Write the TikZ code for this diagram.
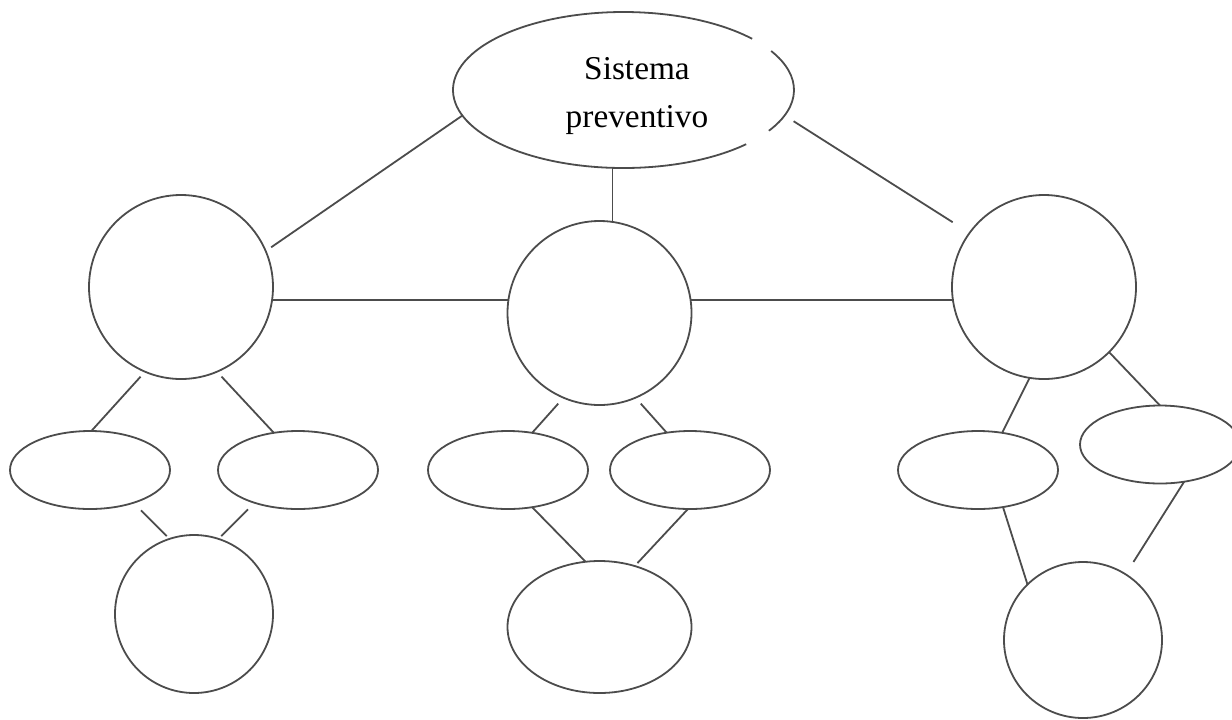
\documentclass[tikz,border=0pt]{standalone}
\usepackage{fontspec}
\setmainfont{Liberation Serif}
\usetikzlibrary{shapes.geometric}

\begin{document}
\begin{tikzpicture}[x=0.75pt,y=0.75pt,yscale=-1,xscale=1,
  line/.style={draw=black!70,line width=1.35pt},
  shp/.style={line,inner sep=0pt,outer sep=0pt},
  bigcirc/.style={shp,circle,minimum size=138pt},
  smallcirc/.style={shp,circle,minimum size=118.5pt},
  oval/.style={shp,ellipse,minimum width=120pt,minimum height=58.5pt}]
\useasboundingbox (0,0) rectangle (1232,719);

%Shape: Ellipse (outline broken on the right)
\node [ellipse,inner sep=0pt,outer sep=0pt,minimum width=255.75pt,minimum height=117pt] (sp) at (623.5,90) {};
\draw [line] (sp.center) ++(44:170.5 and 78) arc [start angle=44,end angle=319,x radius=170.5,y radius=78];
\draw [line] (sp.center) ++(-30:170.5 and 78) arc [start angle=-30,end angle=31.5,x radius=170.5,y radius=78];
% Text Node
\node [font=\fontsize{25}{36}\selectfont,align=center,inner sep=0pt] (sptxt) at (637,96) {Sistema\\preventivo};

%Shape: Circle
\node [bigcirc] (cL) at (181,287) {};
\node [bigcirc] (cM) at (599.5,313) {};
\node [bigcirc] (cR) at (1044,287) {};

%Shape: Ellipse
\node [oval] (eL1) at (90,470) {};
\node [oval] (eL2) at (298,470) {};
\node [oval] (eM1) at (508,470) {};
\node [oval] (eM2) at (690,470) {};
\node [oval] (eR1) at (978,470) {};
\node [oval] (eR2) at (1160,444.5) {};

%Shape: Circle
\node [smallcirc] (bL) at (194,614) {};
\node [shp,ellipse,minimum width=138pt,minimum height=99pt] (bM) at (599.5,627) {};
\node [shp,ellipse,minimum width=118.5pt,minimum height=117pt] (bR) at (1083,640) {};

%Straight Lines
\draw [line,shorten >=5pt] (sp.189.5) -- (cL.23);
\draw [line] (sp.262) -- (sp.262 |- cM.north);
\draw [line,shorten <=8pt,shorten >=15pt] (sp.351) -- (cR.144.5);
\draw [line] (cL.-8) -- (cL.-8 -| cM.west);
\draw [line] (cM.8) -- (cM.8 -| cR.west);
%Straight Lines
\draw [line,shorten <=5pt] (cL.247.6) -- (eL1.88.5);
\draw [line,shorten <=5pt] (cL.293) -- (eL2.123);
\draw [line,shorten <=8pt,shorten >=3pt] (eL1.-37) -- (bL.108);
\draw [line,shorten <=7pt,shorten >=3pt] (eL2.217) -- (bL.72);
%Straight Lines
\draw [line,shorten <=6pt] (cM.247) -- (eM1.57);
\draw [line,shorten <=6pt] (cM.293) -- (eM2.122);
\draw [line] (eM1.-57) -- (bM.102);
\draw [line,shorten >=3pt] (eM2.267) -- (bM.60);
%Straight Lines
\draw [line] (cR.261) -- (eR1.57);
\draw [line] (cR.-45) -- (eR2.north);
\draw [line] (eR1.-56) -- (bR.135);
\draw [line,shorten >=11pt] (eR2.-57) -- (bR.57);

\end{tikzpicture}
\end{document}
